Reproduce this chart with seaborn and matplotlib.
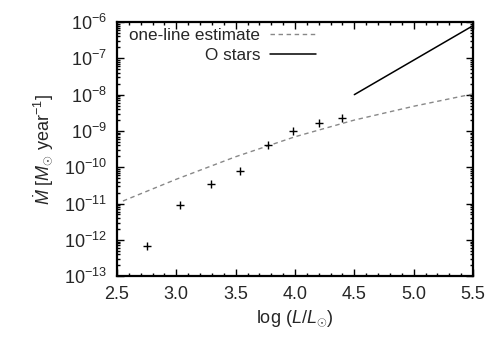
import numpy as np
import pandas as pd
import seaborn as sns
import matplotlib.pyplot as plt
from matplotlib.ticker import MultipleLocator, LogLocator, FixedLocator

sns.set_theme(style="ticks")
plt.rcParams['font.family'] = ['Liberation Sans', 'DejaVu Sans']
plt.rcParams['mathtext.fontset'] = 'custom'
plt.rcParams['mathtext.rm'] = 'Liberation Sans'
plt.rcParams['mathtext.it'] = 'Liberation Sans:italic'

# measured stars
star_logL = [2.75, 3.03, 3.29, 3.54, 3.77, 3.985, 4.20, 4.395]
star_logMdot = [-12.16, -11.05, -10.47, -10.10, -9.40, -9.00, -8.77, -8.65]

# one-line estimate curve
est_logL = [2.55, 3.0, 3.5, 4.0, 4.5, 5.0, 5.5]
est_logMdot = [-10.93, -10.33, -9.71, -9.16, -8.70, -8.32, -7.98]

# O stars relation
ostar_logL = [4.5, 5.5]
ostar_logMdot = [-8.0, -6.1]

stars = pd.DataFrame({'logL': star_logL, 'Mdot': 10.0 ** np.array(star_logMdot)})
est = pd.DataFrame({'logL': est_logL, 'Mdot': 10.0 ** np.array(est_logMdot)})
ostar = pd.DataFrame({'logL': ostar_logL, 'Mdot': 10.0 ** np.array(ostar_logMdot)})

fig = plt.figure(figsize=(5, 3.5), dpi=100)
ax = fig.add_axes([0.234, 0.211, 0.712, 0.726])

sns.lineplot(data=est, x='logL', y='Mdot', ax=ax, color='#888888', lw=1,
             dashes=False, label='one-line estimate')
ax.lines[-1].set_dashes([3.2, 2.6])
sns.lineplot(data=ostar, x='logL', y='Mdot', ax=ax, color='black', lw=1.1,
             label='O stars')
sns.scatterplot(data=stars, x='logL', y='Mdot', ax=ax, marker='+', color='black',
                s=30, linewidth=1, zorder=5)

ax.set_yscale('log')
ax.set_xlim(2.5, 5.5)
ax.set_ylim(1e-13, 1e-6)
ax.xaxis.set_major_locator(MultipleLocator(0.5))
ax.xaxis.set_minor_locator(MultipleLocator(0.1))
ax.yaxis.set_major_locator(FixedLocator([10.0 ** k for k in range(-13, -5)]))
ax.yaxis.set_minor_locator(LogLocator(base=10, subs=np.arange(2, 10), numticks=20))
ax.xaxis.set_major_formatter(plt.FuncFormatter(lambda v, p: f'{v:.1f}'))
ax.yaxis.set_major_formatter(plt.FuncFormatter(
    lambda v, p: r'10$^{%d}$' % round(np.log10(v))))

ax.tick_params(which='both', direction='in', top=True, right=True, labelsize=13,
               color='black', pad=7)
ax.tick_params(which='major', length=5, width=1)
ax.tick_params(which='minor', length=2.5, width=1)
for s in ax.spines.values():
    s.set_linewidth(1.6)
    s.set_color('black')

ax.set_xlabel(r'log ($L/L_{\odot}$)', fontsize=13, labelpad=4)
ax.set_ylabel(r'$\dot{M}$ [$M_{\odot}$ year$^{-1}$]', fontsize=13, labelpad=6)

ax.legend(loc='upper left', frameon=False, markerfirst=False, fontsize=12.3,
          handlelength=2.7, borderaxespad=0.1, labelspacing=0.3,
          handletextpad=0.6, bbox_to_anchor=(0.01, 1.01))
for t in ax.get_legend().get_texts():
    t.set_ha('right')
leg = ax.get_legend()
leg._legend_box.align = 'right'

fig.savefig('out.png', dpi=100)
